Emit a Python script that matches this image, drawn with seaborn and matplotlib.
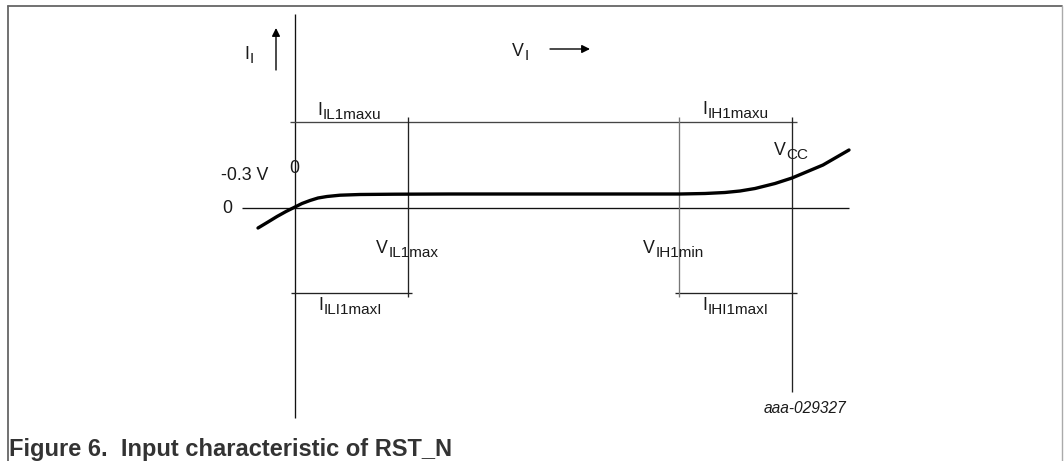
import matplotlib
matplotlib.use("Agg")
import matplotlib.pyplot as plt
from matplotlib.lines import Line2D
import seaborn as sns

# Schematic input characteristic (arbitrary units)
v_curve = [-0.37, -0.27, -0.18, -0.09, 0.00, 0.07, 0.15, 0.23, 0.32, 0.45, 0.65,
           1.00, 1.55, 2.55, 3.85, 4.10, 4.30, 4.45, 4.60, 4.80, 4.97, 5.28, 5.54]
i_curve = [-0.20, -0.14, -0.085, -0.035, 0.01, 0.045, 0.075, 0.10, 0.115, 0.128, 0.135,
           0.138, 0.14, 0.14, 0.14, 0.145, 0.155, 0.17, 0.195, 0.245, 0.30, 0.43, 0.58]

V_IL1MAX = 1.13
V_IH1MIN = 3.84
V_CC = 4.97
I_MAXU = 0.86
I_MAXL = -0.85

W, H = 1064, 461


def main():
    sns.set_theme(style="white")
    plt.rcParams["font.family"] = ["Liberation Sans", "DejaVu Sans"]

    fig = plt.figure(figsize=(W / 100, H / 100), dpi=100)
    ax = fig.add_axes([0, 0, 1, 1])
    ax.set_xlim(-2.95, 7.69)
    ax.set_ylim(-2.53, 2.08)
    ax.axis("off")

    thin = dict(lw=0.95)
    # axes of the diagram
    ax.vlines(0, -2.10, 1.94, color="#111", **thin)
    ax.hlines(0, -0.53, 5.54, color="#111", **thin)
    # limit lines
    ax.hlines(I_MAXU, -0.05, V_CC + 0.05, color="#444", **thin)
    ax.hlines(I_MAXL, -0.04, V_IL1MAX + 0.04, color="#222", **thin)
    ax.hlines(I_MAXL, V_IH1MIN - 0.04, V_CC + 0.05, color="#222", **thin)
    ax.vlines(V_IL1MAX, I_MAXL - 0.04, I_MAXU + 0.05, color="#222", **thin)
    ax.vlines(V_IH1MIN, I_MAXL - 0.04, I_MAXU + 0.05, color="#777", **thin)
    ax.vlines(V_CC, -1.84, I_MAXU + 0.05, color="#222", **thin)

    # characteristic curve
    sns.lineplot(x=v_curve, y=i_curve, sort=False, estimator=None,
                 color="black", lw=2.4, ax=ax)

    # direction arrows
    ax.annotate("", xy=(-0.19, 1.80), xytext=(-0.19, 1.38),
                arrowprops=dict(arrowstyle="-|>", color="black", lw=1.0,
                                mutation_scale=12, shrinkA=0, shrinkB=0))
    ax.annotate("", xy=(2.95, 1.59), xytext=(2.55, 1.59),
                arrowprops=dict(arrowstyle="-|>", color="black", lw=1.0,
                                mutation_scale=12, shrinkA=0, shrinkB=0))

    tc = "#1a1a1a"

    def label(x, y, main_txt, sub=None, fs=12.8, sfs=11):
        t = ax.text(x, y, main_txt, fontsize=fs, color=tc, ha="left", va="baseline")
        if sub:
            ax.annotate(sub, xy=(1, 0), xycoords=t, xytext=(0.2, -2.5),
                        textcoords="offset points", fontsize=sfs, color=tc,
                        ha="left", va="bottom")

    label(-0.51, 1.49, "I", "I")
    label(2.17, 1.52, "V", "I")
    label(0.22, 0.93, "I", "IL1maxu")
    label(4.07, 0.94, "I", "IH1maxu")
    label(4.79, 0.53, "V", "CC")
    label(-0.74, 0.28, "-0.3 V")
    label(-0.055, 0.35, "0")
    label(-0.73, -0.05, "0")
    label(0.81, -0.45, "V", "IL1max")
    label(3.48, -0.45, "V", "IH1min")
    label(0.23, -1.02, "I", "ILI1maxI")
    label(4.07, -1.02, "I", "IHI1maxI")

    ax.text(5.10, -2.05, "aaa-029327", fontsize=11.2, style="italic",
            color=tc, ha="center", va="baseline")

    # frame and caption
    fc = "#666666"
    fig.add_artist(Line2D([7.5 / W, 7.5 / W], [0, 1 - 6 / H], color=fc, lw=1.3))
    fig.add_artist(Line2D([7.5 / W, 1062 / W], [1 - 6 / H, 1 - 6 / H], color=fc, lw=1.3))
    fig.add_artist(Line2D([1062 / W, 1062 / W], [0, 1 - 6 / H], color="#aaaaaa", lw=1.0))
    fig.text(9 / W, 1 - 456 / H, "Figure 6.  Input characteristic of RST_N",
             fontsize=17, fontweight="bold", color="#333333",
             ha="left", va="baseline")

    fig.savefig("out.png", dpi=100)


if __name__ == "__main__":
    main()
